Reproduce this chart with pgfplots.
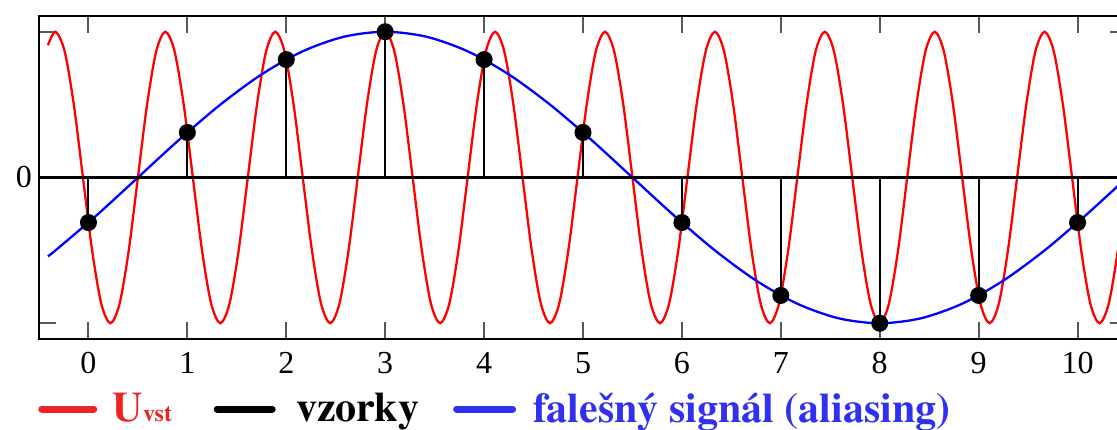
\documentclass[border=0pt]{standalone}
\usepackage{fontspec}
\setmainfont{Liberation Serif}
\newfontfamily\legfont{texgyretermes-bold.otf}
\usepackage{pgfplots}
\pgfplotsset{compat=1.18}
\definecolor{legred}{HTML}{EE2424}
\definecolor{legblue}{HTML}{3030EE}
\begin{document}
\begin{tikzpicture}
\begin{axis}[
  scale only axis, width=544pt, height=161.5pt,
  xmin=-0.5, xmax=10.5, ymin=-1.108, ymax=1.108,
  xtick={0,...,10}, ytick={-1,0,1}, yticklabels={,0,},
  tick align=inside, major tick length=8.5pt,
  tick style={line width=1pt, color=black!65},
  axis line style={line width=1.3pt},
  /pgf/number format/assume math mode=true,
  tick label style={font=\fontsize{16}{19}\selectfont},
  xticklabel style={yshift=-3pt},
  clip=true,
  legend columns=-1,
  legend style={draw=none, fill=none, at={(-0.001,-0.2167)}, anchor=west,
    inner sep=0pt, nodes={inner sep=0pt}, column sep=0pt,
    font={\legfont\fontsize{21}{25}\selectfont}},
]
\addlegendimage{legend image code/.code={\draw[legred, line width=3.5pt, line cap=round] (1.75pt,0pt) -- (27.75pt,0pt); \path (37pt,0pt);}}
\addlegendentry{\makebox[50.5pt][l]{\textcolor{legred}{U{\fontsize{12}{12}\selectfont vst}}}}
\addlegendimage{legend image code/.code={\draw[black, line width=3.5pt, line cap=round] (1.75pt,0pt) -- (29.25pt,0pt); \path (41pt,0pt);}}
\addlegendentry{\makebox[78.5pt][l]{vzorky}}
\addlegendimage{legend image code/.code={\draw[legblue, line width=3.5pt, line cap=round] (1.75pt,0pt) -- (29.75pt,0pt); \path (40pt,0pt);}}
\addlegendentry{\textcolor{legblue}{falešný signál (aliasing)}}

\addplot[red, line width=1.15pt, smooth, forget plot] table {
x y
-0.41 0.907
-0.33333 1
-0.24074 0.866
-0.14815 0.5
-0.05556 0
0.03704 -0.5
0.12963 -0.866
0.22222 -1
0.31481 -0.866
0.40741 -0.5
0.50000 0
0.59259 0.5
0.68519 0.866
0.77778 1
0.87037 0.866
0.96296 0.5
1.05556 0
1.14815 -0.5
1.24074 -0.866
1.33333 -1
1.42593 -0.866
1.51852 -0.5
1.61111 0
1.70370 0.5
1.79630 0.866
1.88889 1
1.98148 0.866
2.07407 0.5
2.16667 0
2.25926 -0.5
2.35185 -0.866
2.44444 -1
2.53704 -0.866
2.62963 -0.5
2.72222 0
2.81481 0.5
2.90741 0.866
3.00000 1
3.09259 0.866
3.18519 0.5
3.27778 0
3.37037 -0.5
3.46296 -0.866
3.55556 -1
3.64815 -0.866
3.74074 -0.5
3.83333 0
3.92593 0.5
4.01852 0.866
4.11111 1
4.20370 0.866
4.29630 0.5
4.38889 0
4.48148 -0.5
4.57407 -0.866
4.66667 -1
4.75926 -0.866
4.85185 -0.5
4.94444 0
5.03704 0.5
5.12963 0.866
5.22222 1
5.31481 0.866
5.40741 0.5
5.50000 0
5.59259 -0.5
5.68519 -0.866
5.77778 -1
5.87037 -0.866
5.96296 -0.5
6.05556 0
6.14815 0.5
6.24074 0.866
6.33333 1
6.42593 0.866
6.51852 0.5
6.61111 0
6.70370 -0.5
6.79630 -0.866
6.88889 -1
6.98148 -0.866
7.07407 -0.5
7.16667 0
7.25926 0.5
7.35185 0.866
7.44444 1
7.53704 0.866
7.62963 0.5
7.72222 0
7.81481 -0.5
7.90741 -0.866
8.00000 -1
8.09259 -0.866
8.18519 -0.5
8.27778 0
8.37037 0.5
8.46296 0.866
8.55556 1
8.64815 0.866
8.74074 0.5
8.83333 0
8.92593 -0.5
9.01852 -0.866
9.11111 -1
9.20370 -0.866
9.29630 -0.5
9.38889 0
9.48148 0.5
9.57407 0.866
9.66667 1
9.75926 0.866
9.85185 0.5
9.94444 0
10.03704 -0.5
10.12963 -0.866
10.22222 -1
10.31481 -0.866
10.40741 -0.5
10.50000 0
};

\addplot[blue, line width=1.15pt, smooth, forget plot] table {
x y
-0.41 -0.541
-0.33333 -0.5
0.08333 -0.2588
0.5 0
0.91667 0.2588
1.33333 0.5
1.75 0.7071
2.16667 0.866
2.58333 0.9659
3 1
3.41667 0.9659
3.83333 0.866
4.25 0.7071
4.66667 0.5
5.08333 0.2588
5.5 0
5.91667 -0.2588
6.33333 -0.5
6.75 -0.7071
7.16667 -0.866
7.58333 -0.9659
8 -1
8.41667 -0.9659
8.83333 -0.866
9.25 -0.7071
9.66667 -0.5
10.08333 -0.2588
10.5 0
};

\addplot[black, line width=1.2pt, forget plot] coordinates {(-0.5,0) (10.5,0)};

\addplot[ycomb, black, line width=1pt, mark=*, mark size=3.75pt, mark options={fill=black}, forget plot] coordinates {
(0,-0.309) (1,0.309) (2,0.809) (3,1) (4,0.809) (5,0.309)
(6,-0.309) (7,-0.809) (8,-1) (9,-0.809) (10,-0.309)
};

\coordinate (BL) at (rel axis cs:0,0);
\coordinate (TL) at (rel axis cs:0,1);
\end{axis}
\pgfresetboundingbox
\path ([shift={(-19.5pt,-45pt)}]BL) rectangle ([shift={(539pt,8pt)}]TL);
\end{tikzpicture}
\end{document}
